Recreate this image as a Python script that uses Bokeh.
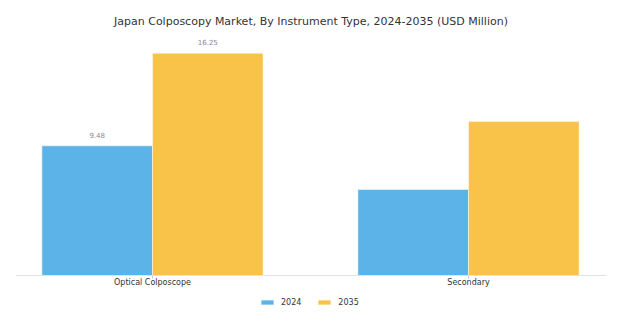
from bokeh.plotting import figure
from bokeh.models import ColumnDataSource, Range1d, FixedTicker, Legend, LegendItem, LabelSet
from bokeh.core.properties import value
from bokeh.embed import file_html
from bokeh.resources import INLINE

categories = ["Optical Colposcope", "Secondary"]
years = ["2024", "2035"]
values_2024 = [9.48, 6.29]
values_2035 = [16.25, 11.26]
label_2024 = ["9.48", ""]
label_2035 = ["16.25", ""]
colors = ["#5cb3e8", "#f9c349"]

FONT = "DejaVu Sans"
bw = 0.35
idx = list(range(len(categories)))

p = figure(width=625, height=328, output_backend="svg", toolbar_location=None,
           x_range=Range1d(-0.4335, 1.4367), y_range=Range1d(-3.436, 17.91),
           min_border_left=15, min_border_right=19, min_border_top=30, min_border_bottom=6)
p.outline_line_color = None
p.background_fill_color = "white"
p.border_fill_color = "white"
p.xgrid.visible = False
p.ygrid.visible = False
p.yaxis.visible = False

p.title.text = "Japan Colposcopy Market, By Instrument Type, 2024-2035 (USD Million)"
p.title.align = "center"
p.title.text_font = FONT
p.title.text_font_size = "11px"
p.title.text_font_style = "normal"
p.title.text_color = "#333333"
p.title.standoff = 6

src1 = ColumnDataSource(dict(x=[i - bw / 2 for i in idx], top=values_2024, lab=label_2024))
src2 = ColumnDataSource(dict(x=[i + bw / 2 for i in idx], top=values_2035, lab=label_2035))
r1 = p.vbar(x="x", top="top", width=bw, source=src1, fill_color=colors[0], line_color="white", line_width=0.5)
r2 = p.vbar(x="x", top="top", width=bw, source=src2, fill_color=colors[1], line_color="white", line_width=0.5)

for s in (src1, src2):
    p.add_layout(LabelSet(x="x", y="top", text="lab", source=s, text_align="center",
                          text_baseline="bottom", y_offset=8, text_font=value(FONT),
                          text_font_size=value("7px"), text_color=value("#888888")))

ax = p.xaxis[0]
ax.fixed_location = 0
ax.ticker = FixedTicker(ticks=idx)
ax.major_label_overrides = {i: c for i, c in zip(idx, categories)}
ax.axis_line_color = "#e3e3e3"
ax.major_tick_line_color = "#cccccc"
ax.major_tick_in = 0
ax.major_tick_out = 3
ax.minor_tick_line_color = None
ax.major_label_text_font = FONT
ax.major_label_text_font_size = "8px"
ax.major_label_text_color = "#333333"
ax.major_label_standoff = 0

legend = Legend(items=[LegendItem(label=years[0], renderers=[r1]),
                       LegendItem(label=years[1], renderers=[r2])],
                orientation="horizontal", location=(244, 14),
                glyph_width=16, glyph_height=6, label_height=12, label_standoff=6, spacing=15,
                label_text_font=FONT, label_text_font_size="8px", label_text_color="#333333",
                border_line_color=None, background_fill_alpha=0, padding=2, margin=0)
p.add_layout(legend)

open("out.html", "w").write(file_html(p, INLINE))
